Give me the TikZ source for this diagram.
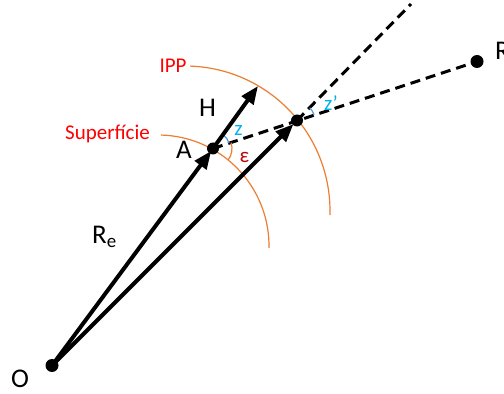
\documentclass[tikz,border=0pt]{standalone}
\usepackage{fontspec}
\setmainfont{Carlito}
\usetikzlibrary{arrows.meta}
\definecolor{arcorange}{HTML}{ED7D31}
\definecolor{lblred}{HTML}{FF0000}
\definecolor{zblue}{HTML}{00B0F0}
\definecolor{zarc}{HTML}{5B9BD5}
\definecolor{epsred}{HTML}{C00000}
\begin{document}
\begin{tikzpicture}[x=1pt,y=1pt,
  vec/.style={line width=4pt,-{Triangle[length=18pt,width=14pt]}},
  ray/.style={line width=3pt,dash pattern=on 10pt off 6pt},
  shell/.style={arcorange,line width=1.2pt},
  dotmark/.style={fill=black},
  biglbl/.style={font=\fontsize{27}{30}\selectfont,inner sep=0pt},
  redlbl/.style={text=lblred,font=\fontsize{21}{25}\selectfont,inner sep=0pt},
  anglbl/.style={font=\fontsize{21}{24}\selectfont,inner sep=0pt}]
\useasboundingbox (0,0) rectangle (504,394);
% points
\coordinate (O) at (52,28.5);
\coordinate (A) at (213,245.5);
\coordinate (Ht) at (258,308);
\coordinate (P) at (297,273.5);
\coordinate (R) at (477,332.5);
\coordinate (Top) at (411,390);
\coordinate (Sc) at (158,148);
\coordinate (Ic) at (185,183);
% shells
\draw[shell] ([shift={(88.5:111)}]Sc) arc[start angle=88.5,end angle=-1,radius=111];
\draw[shell] ([shift={(88:145)}]Ic) arc[start angle=88,end angle=-1.6,radius=145];
% dashed rays
\draw[ray] (A) -- (R);
\draw[ray] (P) -- (Top);
% angle marks
\draw[zarc,line width=1.2pt] ([shift={(53.4:17)}]A) arc[start angle=53.4,end angle=18.2,radius=17];
\draw[arcorange,line width=1.2pt] ([shift={(18.2:19)}]A) arc[start angle=18.2,end angle=-37,radius=19];
\draw[zarc,line width=1.2pt] ([shift={(45:18)}]P) arc[start angle=45,end angle=18.2,radius=18];
% vectors
\draw[vec,shorten >=3pt] (O) -- (A);
\draw[vec,shorten >=5pt] (O) -- (P);
\draw[vec] (A) -- (Ht);
% dots
\fill[dotmark] (O) circle[radius=6.5];
\fill[dotmark] (A) circle[radius=6];
\fill[dotmark] (P) circle[radius=6];
\fill[dotmark] (R) circle[radius=6.5];
% labels
\node[biglbl] (lO) at (20,15) {O};
\node[biglbl] (lA) at (184,244) {A};
\node[biglbl] (lH) at (207.5,286) {H};
\node[biglbl,anchor=west] (lRe) at (92,157) {R\textsubscript{e}};
\node[biglbl,anchor=west] (lR) at (495,343) {R};
\node[redlbl] (lIPP) at (173,328) {IPP};
\node[redlbl] (lSup) at (107.5,260) {Superfície};
\node[anglbl,text=zblue] (lz) at (238.5,264) {z};
\node[anglbl,text=epsred] (leps) at (244.5,237) {ε};
\node[anglbl,text=zblue] (lzp) at (331,291) {z’};
\end{tikzpicture}
\end{document}
